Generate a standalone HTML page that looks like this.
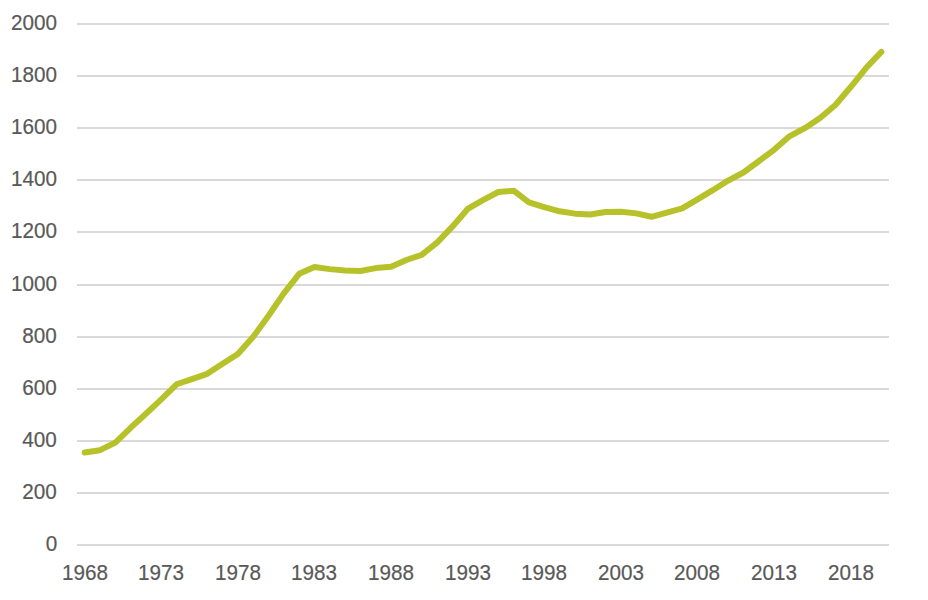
<!DOCTYPE html>
<html><head><meta charset="utf-8"><style>
html,body{margin:0;padding:0;background:#fff;width:928px;height:600px;overflow:hidden;}
body{position:relative;font-family:"Liberation Sans",sans-serif;color:#595959;-webkit-text-stroke:0.2px #595959;}
svg{position:absolute;left:0;top:0;}
.yl{position:absolute;right:871px;font-size:22px;line-height:20px;height:20px;text-align:right;white-space:nowrap;transform:scaleX(0.94);transform-origin:100% 50%;}
.xl{position:absolute;top:563px;width:80px;font-size:22px;line-height:20px;height:20px;text-align:center;white-space:nowrap;transform:scaleX(0.94);transform-origin:50% 50%;}
</style></head><body>
<svg width="928" height="600" viewBox="0 0 928 600">
<rect x="77" y="23" width="812" height="2" fill="#d9d9d9"/>
<rect x="77" y="75" width="812" height="2" fill="#d9d9d9"/>
<rect x="77" y="127" width="812" height="2" fill="#d9d9d9"/>
<rect x="77" y="179" width="812" height="2" fill="#d9d9d9"/>
<rect x="77" y="231" width="812" height="2" fill="#d9d9d9"/>
<rect x="77" y="284" width="812" height="2" fill="#d9d9d9"/>
<rect x="77" y="336" width="812" height="2" fill="#d9d9d9"/>
<rect x="77" y="388" width="812" height="2" fill="#d9d9d9"/>
<rect x="77" y="440" width="812" height="2" fill="#d9d9d9"/>
<rect x="77" y="492" width="812" height="2" fill="#d9d9d9"/>
<rect x="77" y="544" width="812" height="2" fill="#d9d9d9"/>
<polyline points="84.66,452.52 99.98,450.18 115.30,442.62 130.62,427.78 145.94,413.71 161.26,399.38 176.58,384.27 191.91,379.06 207.23,373.85 222.55,363.69 237.87,354.05 253.19,336.86 268.51,315.76 283.83,293.36 299.15,273.82 314.47,267.05 329.79,269.13 345.11,270.43 360.43,270.95 375.75,268.09 391.08,266.79 406.40,260.01 421.72,254.80 437.04,242.56 452.36,226.67 467.68,208.96 483.00,200.10 498.32,192.02 513.64,190.72 528.96,202.44 544.28,207.13 559.60,211.30 574.92,213.64 590.25,214.43 605.57,212.08 620.89,211.82 636.21,213.38 651.53,216.77 666.85,212.60 682.17,208.43 697.49,199.32 712.81,190.20 728.13,180.56 743.45,172.49 758.77,161.28 774.09,149.82 789.42,136.28 804.74,128.20 820.06,118.04 835.38,105.02 850.70,87.04 866.02,68.02 881.34,51.87" fill="none" stroke="#b7c22a" stroke-width="6" stroke-linejoin="round" stroke-linecap="round"/>
</svg>
<div class="yl" style="top:13px">2000</div>
<div class="yl" style="top:65px">1800</div>
<div class="yl" style="top:117px">1600</div>
<div class="yl" style="top:169px">1400</div>
<div class="yl" style="top:221px">1200</div>
<div class="yl" style="top:274px">1000</div>
<div class="yl" style="top:326px">800</div>
<div class="yl" style="top:378px">600</div>
<div class="yl" style="top:430px">400</div>
<div class="yl" style="top:482px">200</div>
<div class="yl" style="top:534px">0</div>
<div class="xl" style="left:44.66px">1968</div>
<div class="xl" style="left:121.26px">1973</div>
<div class="xl" style="left:197.87px">1978</div>
<div class="xl" style="left:274.47px">1983</div>
<div class="xl" style="left:351.08px">1988</div>
<div class="xl" style="left:427.68px">1993</div>
<div class="xl" style="left:504.28px">1998</div>
<div class="xl" style="left:580.89px">2003</div>
<div class="xl" style="left:657.49px">2008</div>
<div class="xl" style="left:734.09px">2013</div>
<div class="xl" style="left:810.70px">2018</div>
</body></html>
